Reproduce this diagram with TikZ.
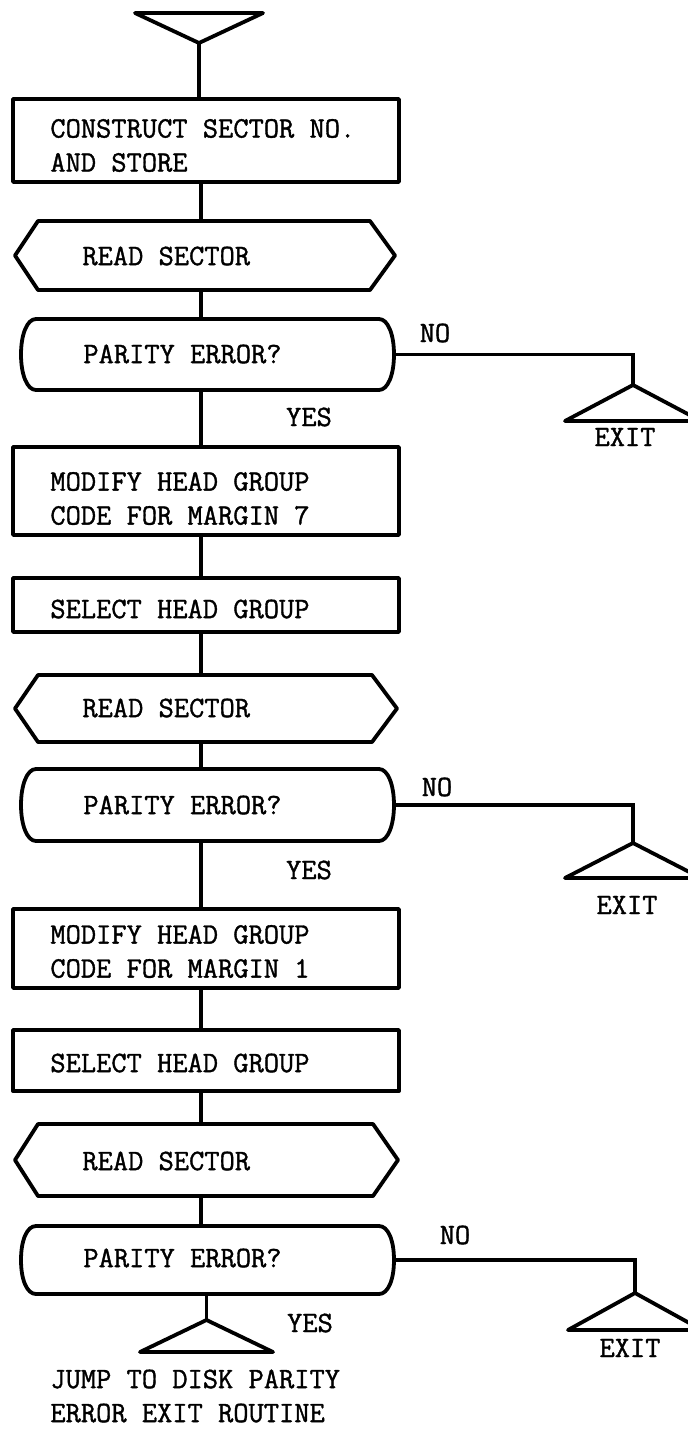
\documentclass[tikz,border=0pt]{standalone}
\usepackage{fontspec}
\setmainfont{Latin Modern Mono}[FakeBold=1.2]
\usetikzlibrary{calc}

% one unit = half a point, y grows downwards
\tikzset{
  x=0.5pt, y=-0.5pt,
  outline/.style={line width=1.9pt, line join=round},
  conn/.style={line width=1.9pt},
  area/.style={shape=rectangle, inner sep=0pt, outer sep=0pt},
  procbox/.style={area, draw, outline, minimum width=193pt},
  txt/.style={inner sep=0pt, anchor=west, align=left,
              font=\fontsize{14.8}{17}\selectfont},
  lbl/.style={inner sep=0pt, font=\fontsize{14.8}{17}\selectfont},
}

% input/output symbol: pointed on both sides
\newcommand\iooutline[1]{%
  \draw[outline] ($(#1.north west)+(23,0)$) -- ($(#1.north east)+(-25,0)$)
    -- (#1.east) -- ($(#1.south east)+(-25,0)$)
    -- ($(#1.south west)+(23,0)$) -- (#1.west) -- cycle;}

% decision symbol: flat top and bottom, bulging ends
\newcommand\decoutline[1]{%
  \draw[outline] ($(#1.north west)+(15,0)$) -- ($(#1.north east)+(-15,0)$)
    .. controls ($(#1.north east)+(-6,0)$) and ($(#1.east)+(0,-20)$) .. (#1.east)
    .. controls ($(#1.east)+(0,20)$) and ($(#1.south east)+(-6,0)$) .. ($(#1.south east)+(-15,0)$)
    -- ($(#1.south west)+(15,0)$)
    .. controls ($(#1.south west)+(6,0)$) and ($(#1.west)+(0,20)$) .. (#1.west)
    .. controls ($(#1.west)+(0,-20)$) and ($(#1.north west)+(6,0)$) .. ($(#1.north west)+(15,0)$)
    -- cycle;}

% off-page connector: apex at the top
\newcommand\exitoutline[1]{%
  \draw[outline] (#1.north) -- (#1.south east) -- (#1.south west) -- cycle;}

\begin{document}
\begin{tikzpicture}
\fill[white] (0,0) rectangle (688,1430);
\useasboundingbox (0,0) rectangle (688,1430);
\clip (0,0) rectangle (688,1430);

\coordinate (col) at (201,0);

% entry
\node[area, minimum width=64pt, minimum height=15pt] (start) at (199,28) {};
\draw[outline] (start.north west) -- (start.north east) -- (start.south) -- cycle;

% first attempt
\node[procbox, minimum height=41.5pt] (b1) at (206,140.5) {};
\node[txt] (b1t) at (50,145.5) {CONSTRUCT SECTOR NO.\\AND STORE};

\node[area, minimum width=190pt, minimum height=34.5pt] (h1) at (205,255.5) {};
\iooutline{h1}
\node[txt] (h1t) at (82,256) {READ SECTOR};

\node[area, minimum width=186.5pt, minimum height=35.5pt] (d1) at (207.5,354.5) {};
\decoutline{d1}
\node[txt] (d1t) at (83,354) {PARITY ERROR?};

\node[area, minimum width=68pt, minimum height=18pt] (x1) at (633,403) {};
\exitoutline{x1}
\node[lbl] (no1) at (435,333) {NO};
\node[lbl] (ex1) at (625,437) {EXIT};
\node[lbl] (yes1) at (309,417) {YES};

% second attempt, margin 7
\node[procbox, minimum height=44pt] (b2) at (206,491) {};
\node[txt] (b2t) at (50,498.5) {MODIFY HEAD GROUP\\CODE FOR MARGIN 7};

\node[procbox, minimum height=27pt] (b3) at (206,605) {};
\node[txt] (b3t) at (50,609) {SELECT HEAD GROUP};

\node[area, minimum width=191pt, minimum height=33.5pt] (h2) at (206,708.5) {};
\iooutline{h2}
\node[txt] (h2t) at (82,708) {READ SECTOR};

\node[area, minimum width=186.5pt, minimum height=36pt] (d2) at (207.5,805) {};
\decoutline{d2}
\node[txt] (d2t) at (83,805) {PARITY ERROR?};

\node[area, minimum width=68pt, minimum height=17.5pt] (x2) at (633,860.5) {};
\exitoutline{x2}
\node[lbl] (no2) at (437,787) {NO};
\node[lbl] (ex2) at (627,905) {EXIT};
\node[lbl] (yes2) at (309,870) {YES};

% third attempt, margin 1
\node[procbox, minimum height=39.5pt] (b4) at (206,948.5) {};
\node[txt] (b4t) at (50,951.5) {MODIFY HEAD GROUP\\CODE FOR MARGIN 1};

\node[procbox, minimum height=30.5pt] (b5) at (206,1060.5) {};
\node[txt] (b5t) at (50,1063) {SELECT HEAD GROUP};

\node[area, minimum width=191.5pt, minimum height=36pt] (h3) at (206.5,1160) {};
\iooutline{h3}
\node[txt] (h3t) at (82,1161) {READ SECTOR};

\node[area, minimum width=186.5pt, minimum height=34pt] (d3) at (207.5,1260) {};
\decoutline{d3}
\node[txt] (d3t) at (83,1258) {PARITY ERROR?};

\node[area, minimum width=67pt, minimum height=18.5pt] (x3) at (635,1311.5) {};
\exitoutline{x3}
\node[lbl] (no3) at (455,1235) {NO};
\node[lbl] (ex3) at (630,1348) {EXIT};
\node[lbl] (yes3) at (310,1323) {YES};

% final exit
\node[area, minimum width=66.5pt, minimum height=16pt] (fin) at (206.5,1336) {};
\exitoutline{fin}
\node[txt] (fint) at (50,1396) {\fontsize{14.8}{16}\selectfont JUMP TO DISK PARITY\\ERROR EXIT ROUTINE};

% main flow
\draw[conn] (start.south) -- (start.south |- b1.north);
\draw[conn] (b1.south -| col) -- (h1.north -| col);
\draw[conn] (h1.south -| col) -- (d1.north -| col);
\draw[conn] (d1.south -| col) -- (b2.north -| col);
\draw[conn] (b2.south -| col) -- (b3.north -| col);
\draw[conn] (b3.south -| col) -- (h2.north -| col);
\draw[conn] (h2.south -| col) -- (d2.north -| col);
\draw[conn] (d2.south -| col) -- (b4.north -| col);
\draw[conn] (b4.south -| col) -- (b5.north -| col);
\draw[conn] (b5.south -| col) -- (h3.north -| col);
\draw[conn] (h3.south -| col) -- (d3.north -| col);
\draw[conn] (fin.north |- d3.south) -- (fin.north);

% "no" branches
\draw[conn] (d1.east) -| (x1.north);
\draw[conn] (d2.east) -| (x2.north);
\draw[conn] (d3.east) -| (x3.north);
\end{tikzpicture}
\end{document}
